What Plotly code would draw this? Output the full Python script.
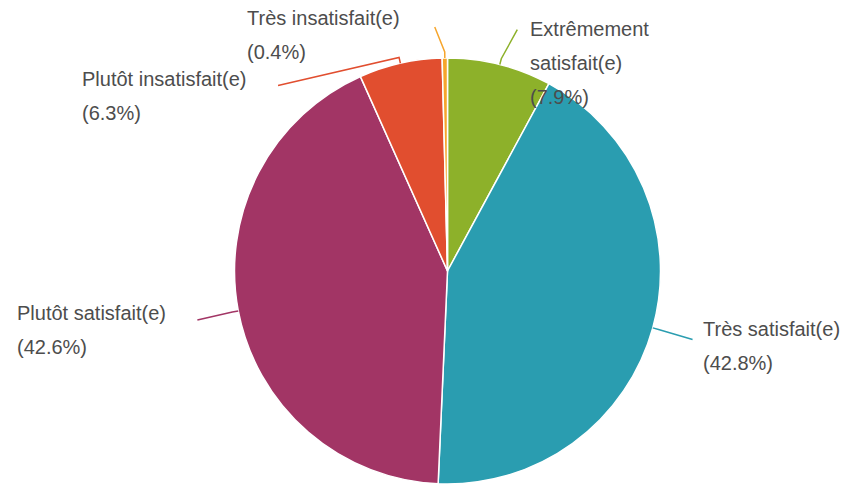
import math
import plotly.graph_objects as go

# ---- data ----
categories = ["Extrêmement satisfait(e)", "Très satisfait(e)", "Plutôt satisfait(e)",
              "Plutôt insatisfait(e)", "Très insatisfait(e)"]
label_lines = [["Extrêmement", "satisfait(e)"], ["Très satisfait(e)"], ["Plutôt satisfait(e)"],
               ["Plutôt insatisfait(e)"], ["Très insatisfait(e)"]]
values = [7.9, 42.8, 42.6, 6.3, 0.4]
colors = ["#8db12a", "#2a9db0", "#a23565", "#e14e2f", "#f6a52c"]

W, H = 862, 486
PAGE_PAD = 8  # browser body margin
CX, CY, R = 447.5, 271.0, 213.0

# leader line end offsets (px, from elbow) and text offsets (px, from line end)
line_end = [(16, -29), (34, 10), (-35, 8), (-121, 28), (-10, -25)]
text_off = [(11, -1), (8, -10), (-182, -7), (-198, -6), (-190, -9)]
LINE_GAP = 34

def px(x):
    return (x - PAGE_PAD) / W

def py(y):
    return 1 - (y - PAGE_PAD) / H

fig = go.Figure(go.Pie(
    labels=categories, values=values, sort=False, direction="clockwise", rotation=0,
    marker=dict(colors=colors, line=dict(color="white", width=1.5)),
    textinfo="none", hoverinfo="label+percent", showlegend=False,
    domain=dict(x=[px(CX - R), px(CX + R)], y=[py(CY + R), py(CY - R)]),
))

total = sum(values)
shapes, annotations = [], []
cum = 0.0
for i, v in enumerate(values):
    mid = (cum + v / 2) / total * 2 * math.pi
    cum += v
    s, c = math.sin(mid), math.cos(mid)
    x0, y0 = CX + R * s, CY - R * c
    x1, y1 = CX + (R + 6) * s, CY - (R + 6) * c
    x2, y2 = x1 + line_end[i][0], y1 + line_end[i][1]
    shapes.append(dict(type="path", xref="paper", yref="paper",
                       path=f"M {px(x0)},{py(y0)} L {px(x1)},{py(y1)} L {px(x2)},{py(y2)}",
                       line=dict(color=colors[i], width=1.5)))
    lines = label_lines[i] + [f"({v:.1f}%)"]
    tx, ty = x2 + text_off[i][0], y2 + text_off[i][1]
    for k, t in enumerate(lines):
        annotations.append(dict(x=px(tx), y=py(ty + k * LINE_GAP), xref="paper", yref="paper",
                                text=t, showarrow=False, xanchor="left", yanchor="middle",
                                font=dict(family="Liberation Sans, Arial, sans-serif", size=20,
                                          color="#4d4d4d")))

fig.update_layout(width=W, height=H, margin=dict(l=0, r=0, t=0, b=0),
                  paper_bgcolor="white", plot_bgcolor="white",
                  shapes=shapes, annotations=annotations)
fig.write_html("out.html")
